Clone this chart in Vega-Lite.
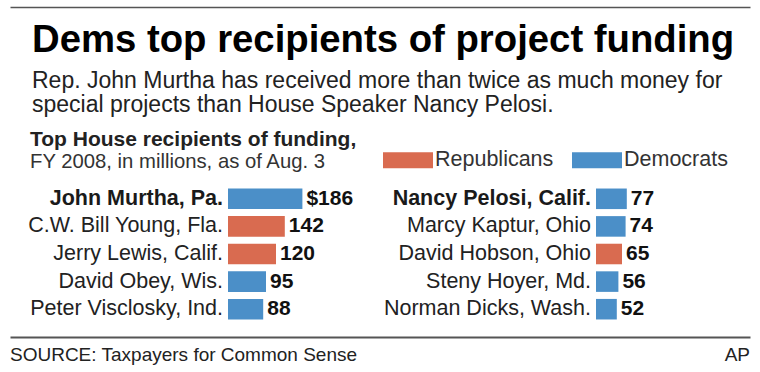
{
  "$schema": "https://vega.github.io/schema/vega-lite/v6.json",
  "background": "white",
  "padding": {"left": 10, "right": 10, "top": 6, "bottom": 0},
  "config": {
    "view": {"stroke": null},
    "font": "Liberation Sans",
    "text": {"font": "Liberation Sans"},
    "title": {"baseline": "top"}
  },
  "datasets": {
    "reps": [
      {"col": "left", "rank": 1, "name": "John Murtha, Pa.", "value": 186, "label": "$186", "party": "Democrats"},
      {"col": "left", "rank": 2, "name": "C.W. Bill Young, Fla.", "value": 142, "label": "142", "party": "Republicans"},
      {"col": "left", "rank": 3, "name": "Jerry Lewis, Calif.", "value": 120, "label": "120", "party": "Republicans"},
      {"col": "left", "rank": 4, "name": "David Obey, Wis.", "value": 95, "label": "95", "party": "Democrats"},
      {"col": "left", "rank": 5, "name": "Peter Visclosky, Ind.", "value": 88, "label": "88", "party": "Democrats"},
      {"col": "right", "rank": 1, "name": "Nancy Pelosi, Calif.", "value": 77, "label": "77", "party": "Democrats"},
      {"col": "right", "rank": 2, "name": "Marcy Kaptur, Ohio", "value": 74, "label": "74", "party": "Democrats"},
      {"col": "right", "rank": 3, "name": "David Hobson, Ohio", "value": 65, "label": "65", "party": "Republicans"},
      {"col": "right", "rank": 4, "name": "Steny Hoyer, Md.", "value": 56, "label": "56", "party": "Democrats"},
      {"col": "right", "rank": 5, "name": "Norman Dicks, Wash.", "value": 52, "label": "52", "party": "Democrats"}
    ],
    "footer": [
      {"pos": 0, "text": "SOURCE: Taxpayers for Common Sense"},
      {"pos": 1, "text": "AP"}
    ],
    "rule": [{"v": 0.5}]
  },
  "spacing": 14,
  "vconcat": [
    {
      "width": 740,
      "height": 1,
      "data": {"name": "rule"},
      "mark": {"type": "point", "opacity": 0, "size": 0},
      "encoding": {
        "x": {"field": "v", "type": "quantitative", "scale": {"domain": [0, 1], "nice": false},
          "axis": {"orient": "bottom", "domain": true, "domainColor": "#555555", "domainWidth": 1.5, "ticks": false, "labels": false, "grid": false, "title": null}}
      }
    },
    {
      "title": {
        "text": "Dems top recipients of project funding",
        "subtitle": ["Rep. John Murtha has received more than twice as much money for", "special projects than House Speaker Nancy Pelosi."],
        "anchor": "start",
        "frame": "group",
        "dx": 22,
        "font": "Liberation Sans",
        "fontSize": 38.3,
        "fontWeight": "bold",
        "color": "#000000",
        "subtitleFont": "Liberation Sans",
        "subtitleFontSize": 23,
        "subtitleColor": "#222222",
        "subtitleLineHeight": 24,
        "subtitlePadding": 10,
        "offset": 11
      },
      "spacing": 0,
      "resolve": {"scale": {"color": "shared"}, "legend": {"color": "independent"}},
      "hconcat": [
        {
          "width": 373,
          "height": 138,
          "title": {
            "text": "Top House recipients of funding,",
            "subtitle": "FY 2008, in millions, as of Aug. 3",
            "anchor": "start",
            "frame": "group",
            "dx": 20,
            "fontSize": 21,
            "fontWeight": "bold",
            "color": "#222222",
            "subtitleFontSize": 20.3,
            "subtitleColor": "#333333",
            "subtitlePadding": 1.6,
            "offset": 12.7
          },
          "data": {"name": "reps"},
          "transform": [{"filter": "datum.col === 'left'"}],
          "encoding": {
            "y": {"field": "rank", "type": "ordinal", "axis": null, "scale": {"paddingInner": 0.255, "paddingOuter": 0.1275}}
          },
          "layer": [
            {
              "mark": {"type": "bar"},
              "encoding": {
                "x": {"field": "value", "type": "quantitative", "stack": null, "axis": null, "scale": {"domain": [-545, 387.5], "nice": false, "zero": false}},
                "x2": {"datum": 0},
                "color": {"field": "party", "type": "nominal", "legend": null, "scale": {"domain": ["Republicans", "Democrats"], "range": ["#d96b50", "#4b8fc8"]}}
              }
            },
            {
              "transform": [{"filter": "datum.rank === 1"}],
              "mark": {"type": "text", "align": "right", "baseline": "middle", "dx": -5, "fontSize": 21.5, "fontWeight": "bold", "color": "#1a1a1a"},
              "encoding": {"x": {"datum": 0, "type": "quantitative"}, "text": {"field": "name"}}
            },
            {
              "transform": [{"filter": "datum.rank !== 1"}],
              "mark": {"type": "text", "align": "right", "baseline": "middle", "dx": -5, "fontSize": 21.5, "color": "#222222"},
              "encoding": {"x": {"datum": 0, "type": "quantitative"}, "text": {"field": "name"}}
            },
            {
              "mark": {"type": "text", "align": "left", "baseline": "middle", "dx": 4, "fontSize": 21, "fontWeight": "bold", "color": "#111111"},
              "encoding": {"x": {"field": "value", "type": "quantitative"}, "text": {"field": "label"}}
            }
          ]
        },
        {
          "width": 367,
          "height": 138,
          "data": {"name": "reps"},
          "transform": [{"filter": "datum.col === 'right'"}],
          "encoding": {
            "y": {"field": "rank", "type": "ordinal", "axis": null, "scale": {"paddingInner": 0.255, "paddingOuter": 0.1275}}
          },
          "layer": [
            {
              "mark": {"type": "bar"},
              "encoding": {
                "x": {"field": "value", "type": "quantitative", "stack": null, "axis": null, "scale": {"domain": [-532.5, 385], "nice": false, "zero": false}},
                "x2": {"datum": 0},
                "color": {"field": "party", "type": "nominal",
                  "scale": {"domain": ["Republicans", "Democrats"], "range": ["#d96b50", "#4b8fc8"]},
                  "legend": {"orient": "top", "direction": "horizontal", "title": null, "symbolType": "M-1,-0.32H1V0.32H-1Z", "symbolSize": 2500, "symbolStrokeWidth": 0, "symbolOpacity": 1, "labelFontSize": 21.5, "labelColor": "#333333", "labelOffset": 2, "columnPadding": 18, "offset": 14, "padding": 0}}
              }
            },
            {
              "transform": [{"filter": "datum.rank === 1"}],
              "mark": {"type": "text", "align": "right", "baseline": "middle", "dx": -5, "fontSize": 21.5, "fontWeight": "bold", "color": "#1a1a1a"},
              "encoding": {"x": {"datum": 0, "type": "quantitative"}, "text": {"field": "name"}}
            },
            {
              "transform": [{"filter": "datum.rank !== 1"}],
              "mark": {"type": "text", "align": "right", "baseline": "middle", "dx": -5, "fontSize": 21.5, "color": "#222222"},
              "encoding": {"x": {"datum": 0, "type": "quantitative"}, "text": {"field": "name"}}
            },
            {
              "mark": {"type": "text", "align": "left", "baseline": "middle", "dx": 4, "fontSize": 21, "fontWeight": "bold", "color": "#111111"},
              "encoding": {"x": {"field": "value", "type": "quantitative"}, "text": {"field": "label"}}
            }
          ]
        }
      ]
    },
    {
      "width": 740,
      "height": 36,
      "data": {"name": "footer"},
      "encoding": {
        "x": {"field": "pos", "type": "quantitative", "scale": {"domain": [0, 1], "nice": false},
          "axis": {"orient": "top", "domain": true, "domainColor": "#555555", "domainWidth": 2, "ticks": false, "labels": false, "grid": false, "title": null}},
        "text": {"field": "text"}
      },
      "layer": [
        {
          "transform": [{"filter": "datum.pos === 0"}],
          "mark": {"type": "text", "align": "left", "baseline": "middle", "fontSize": 19, "color": "#222222"}
        },
        {
          "transform": [{"filter": "datum.pos === 1"}],
          "mark": {"type": "text", "align": "right", "baseline": "middle", "fontSize": 19, "color": "#222222"}
        }
      ]
    }
  ]
}
